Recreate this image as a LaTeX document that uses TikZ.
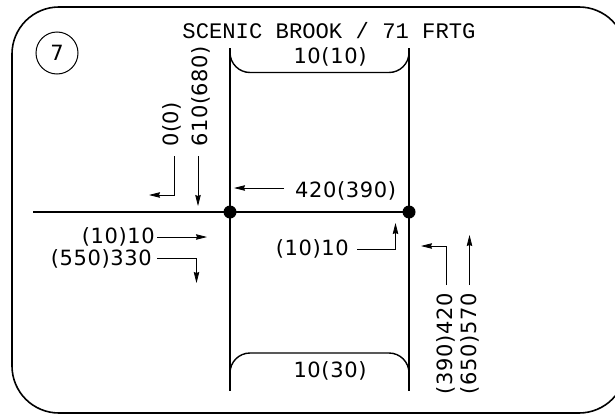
\documentclass[tikz,border=0pt]{standalone}
\usepackage{fontspec}
\usetikzlibrary{arrows.meta,positioning}
\newfontfamily\titlefont{Liberation Mono}
\newfontfamily\countfont[LetterSpace=3]{DejaVu Sans}

\begin{document}
\begin{tikzpicture}[x=1pt, y=-1pt]
	\useasboundingbox (0,0) rectangle (615,415);

	\tikzset{
		road/.style={line width=1.6pt},
		ramp/.style={line width=1.4pt, rounded corners=20pt},
		flow/.style={line width=0.8pt, -{Stealth[length=11pt,width=5.5pt,inset=1pt]}},
		count/.style={font=\countfont\fontsize{21}{23}\selectfont, inner sep=0pt},
		countup/.style={count, rotate=90}
	}

	% --- Frame and panel number ---
	\draw[line width=1.6pt, rounded corners=47pt] (12,7) rectangle (626,413);
	\node[draw, circle, line width=1pt, minimum size=42pt, inner sep=0pt, font=\countfont\fontsize{21}{23}\selectfont] (panel) at (57,53) {7};

	% --- Title ---
	\node[font=\titlefont\fontsize{22.2}{24}\selectfont, inner sep=0pt] (title) at (329,31) {SCENIC BROOK / 71 FRTG};

	% --- Roads ---
	\coordinate (J1) at (230,212);
	\coordinate (J2) at (409,212);
	\coordinate (W) at (33,212);
	\draw[road] (W) -- (J1) -- (J2);
	\draw[road] (230,48) -- (J1) -- (230,391);
	\draw[road] (409,48) -- (J2) -- (409,391);
	\draw[ramp] (230,50) -- (230,72.5) -- (409,72.5) -- (409,50);
	\draw[ramp] (230,375) -- (230,353) -- (409,353) -- (409,375);
	\fill (J1) circle (6.5);
	\fill (J2) circle (6.5);

	% --- Counts ---
	\node[count] (northcnt) at (330,57) {10(10)};
	\node[count] (southcnt) at (330,371) {10(30)};
	\node[count, anchor=west] (eastcnt) at (295,191) {420(390)};
	\node[count, anchor=east] (thrucnt) at (155,237) {(10)10};
	\node[count, anchor=east] (rightcnt) at (152,259) {(550)330};
	\node[count, anchor=east] (leftcnt) at (349,249) {(10)10};
	\node[countup, anchor=west] (uturncnt) at (172,147) {0(0)};
	\node[countup, anchor=west] (downcnt) at (201,147) {610(680)};
	\node[countup, anchor=east] (backcnt) at (446,293) {(390)420};
	\node[countup, anchor=east] (upcnt) at (470,293) {(650)570};

	% --- Turning arrows ---
	\coordinate (uturnend) at (149,195);
	\coordinate (downend) at (198,206);
	\coordinate (eastend) at (234,188);
	\coordinate (thruend) at (207,237);
	\coordinate (rightend) at (196.5,283);
	\coordinate (leftend) at (395.5,223);
	\coordinate (backend) at (421,246);
	\coordinate (upend) at (469.5,235);
	\draw[flow, shorten <=9pt] ([xshift=2pt]uturncnt.west) |- (uturnend);
	\draw[flow, shorten <=9pt] ([xshift=-3pt]downcnt.west) -- (downend);
	\draw[flow, shorten <=11pt] ([yshift=3pt]eastcnt.west) -- (eastend);
	\draw[flow, shorten <=2pt] (thrucnt.east) -- (thruend);
	\draw[flow, shorten <=5pt] ([yshift=1pt]rightcnt.east) -| (rightend);
	\draw[flow, shorten <=8pt] (leftcnt.east) -| (leftend);
	\draw[flow, shorten <=8pt] (backcnt.east) |- (backend);
	\draw[flow, shorten <=8pt] ([xshift=-0.5pt]upcnt.east) -- (upend);
\end{tikzpicture}
\end{document}
